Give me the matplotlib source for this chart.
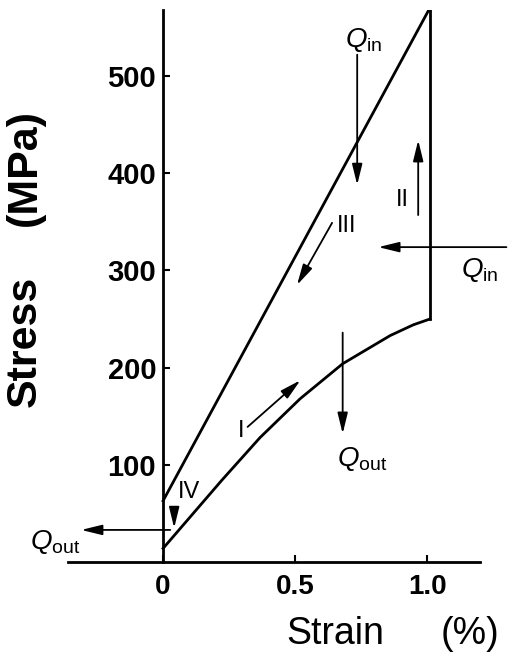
import numpy as np
import matplotlib.pyplot as plt

plt.rcParams['font.family'] = ['Liberation Sans', 'DejaVu Sans']
plt.rcParams['mathtext.fontset'] = 'custom'
plt.rcParams['mathtext.rm'] = 'Liberation Sans'
plt.rcParams['mathtext.it'] = 'Liberation Sans:italic'

# strain in %, stress in MPa
strain_I = [0, 0.222, 0.367, 0.519, 0.68, 0.86, 0.947, 1.01]   # loading (I)
stress_I = [14, 84, 128, 168, 204, 233, 244, 250]
strain_II = [1.01, 1.01]                                        # heating at fixed strain (II)
stress_II = [250, 570]
strain_III = [1.01, 0]                                          # unloading (III)
stress_III = [570, 63]

xticks = [0, 0.5, 1.0]
xticklabels = ['0', '0.5', '1.0']
yticks = [100, 200, 300, 400, 500]

# arrows: (tail, head)
arrow_tails = [(0.735, 522), (0.966, 357), (0.64, 349), (1.30, 324),
               (0.68, 236), (0.32, 139), (0.042, 55), (0.027, 33)]
arrow_heads = [(0.735, 388), (0.966, 434), (0.507, 285), (0.815, 324),
               (0.68, 132), (0.52, 187), (0.042, 35), (-0.31, 33)]

q_labels = [r'$Q_{\mathrm{in}}$', r'$Q_{\mathrm{in}}$', r'$Q_{\mathrm{out}}$', r'$Q_{\mathrm{out}}$']
q_pos = [(0.76, 537), (1.20, 300), (0.755, 106), (-0.41, 21)]
stage_labels = ['I', 'II', 'III', 'IV']
stage_pos = [(0.295, 135), (0.905, 372), (0.695, 346), (0.10, 72)]

fig = plt.figure(figsize=(5.12, 6.65), dpi=100)
ax = fig.add_axes([68 / 512, 103 / 665, 412 / 512, 552 / 665])

ax.plot(strain_I, stress_I, color='k', lw=2.0, solid_joinstyle='round')
ax.plot(strain_II, stress_II, color='k', lw=2.0)
ax.plot(strain_III, stress_III, color='k', lw=2.0, solid_joinstyle='miter')

for tail, head in zip(arrow_tails, arrow_heads):
    ax.annotate('', xy=head, xytext=tail, annotation_clip=False,
                arrowprops=dict(arrowstyle='-|>,head_length=0.9,head_width=0.22',
                                mutation_scale=14, lw=1.3, color='k',
                                shrinkA=0, shrinkB=0))

for txt, (x, y) in zip(q_labels, q_pos):
    ax.text(x, y, txt, fontsize=20, ha='center', va='center', clip_on=False)
for txt, (x, y) in zip(stage_labels, stage_pos):
    ax.text(x, y, txt, fontsize=17, ha='center', va='center')

ax.set_xlim(-0.36, 1.20)
ax.set_ylim(0, 568)
ax.spines['left'].set_position(('data', 0))
ax.spines['top'].set_visible(False)
ax.spines['right'].set_visible(False)
ax.spines['left'].set_linewidth(2)
ax.spines['bottom'].set_linewidth(2)

ax.set_xticks(xticks)
ax.set_xticklabels(xticklabels, fontsize=20, fontweight='bold')
ax.set_yticks(yticks)
ax.set_yticklabels([str(v) for v in yticks], fontsize=21, fontweight='bold')
ax.tick_params(axis='both', direction='in', length=5, width=1.5)
ax.tick_params(axis='x', pad=9)
ax.tick_params(axis='y', pad=5)

fig.text(25 / 512, 1 - 341 / 665, 'Stress', rotation=90, fontsize=31,
         fontweight='bold', ha='center', va='center')
fig.text(25 / 512, 1 - 168 / 665, '(MPa)', rotation=90, fontsize=31,
         fontweight='bold', ha='center', va='center')
fig.text(335 / 512, 1 - 634 / 665, 'Strain', fontsize=27, ha='center', va='center')
fig.text(470 / 512, 1 - 634 / 665, '(%)', fontsize=27, ha='center', va='center')

fig.savefig('out.png', dpi=100)
